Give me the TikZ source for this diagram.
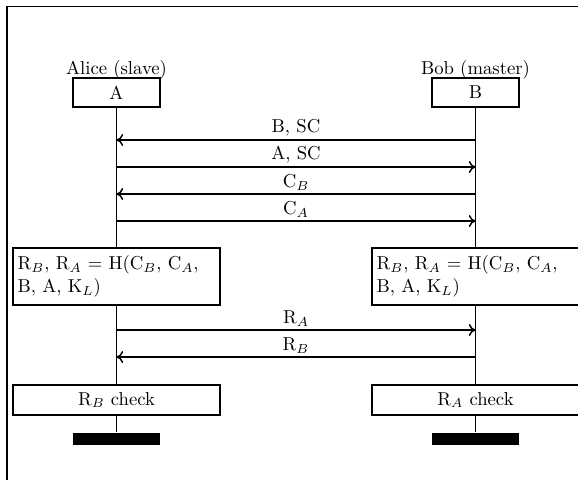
\documentclass[tikz,border=0pt]{standalone}
\usetikzlibrary{arrows.meta}
\begin{document}
\begin{tikzpicture}[x=0.535pt,y=-0.535pt,line width=0.8pt,
  actor/.style={draw,minimum width=46.5pt,minimum height=15.5pt,inner sep=0pt},
  calcbox/.style={draw,minimum width=110.7pt,minimum height=30.5pt,
    text width=105.7pt,align=left,inner sep=2.5pt},
  checkbox/.style={draw,minimum width=110.7pt,minimum height=16pt,inner sep=0pt},
  endbar/.style={fill=black,minimum width=47pt,minimum height=6.4pt,inner sep=0pt},
  msg/.style={-{To[length=3.6pt,width=6.4pt]}},
  msglabel/.style={above,inner sep=1.5pt}]
\useasboundingbox (0,0) rectangle (578,480);
% outer frame
\draw (7,6.5) rectangle (600,500);

% participants
\node[anchor=base] (alice) at (116.5,75) {Alice (slave)};
\node[anchor=base] (bob) at (475.5,75) {Bob (master)};
\node[actor] (A) at (116.5,92.5) {A};
\node[actor] (B) at (475.5,92.5) {B};

% local computations
\node[calcbox] (LA) at (116.5,276.5)
  {\mbox{R$_B$, R$_A$ = H(C$_B$, C$_A$,}\\B, A, K$_L$)};
\node[calcbox] (LB) at (475.5,276.5)
  {\mbox{R$_B$, R$_A$ = H(C$_B$, C$_A$,}\\B, A, K$_L$)};
\node[checkbox] (CA) at (116.5,400) {R$_B$ check};
\node[checkbox] (CB) at (475.5,400) {R$_A$ check};
\node[endbar] (EA) at (116.5,439) {};
\node[endbar] (EB) at (475.5,439) {};

% lifelines
\draw (A) -- (LA) (LA) -- (CA) (CA) -- (EA);
\draw (B) -- (LB) (LB) -- (CB) (CB) -- (EB);

% message anchors on the lifelines
\foreach \n/\y in {1/140,2/167,3/194,4/221,5/330,6/357}{
  \coordinate (a\n) at (116.5,\y);
  \coordinate (b\n) at (475.5,\y);
}

% messages
\draw[msg] (b1) -- node[msglabel] {B, SC} (a1);
\draw[msg] (a2) -- node[msglabel] {A, SC} (b2);
\draw[msg] (b3) -- node[msglabel] {C$_B$} (a3);
\draw[msg] (a4) -- node[msglabel] {C$_A$} (b4);
\draw[msg] (a5) -- node[msglabel] {R$_A$} (b5);
\draw[msg] (b6) -- node[msglabel] {R$_B$} (a6);
\end{tikzpicture}
\end{document}
